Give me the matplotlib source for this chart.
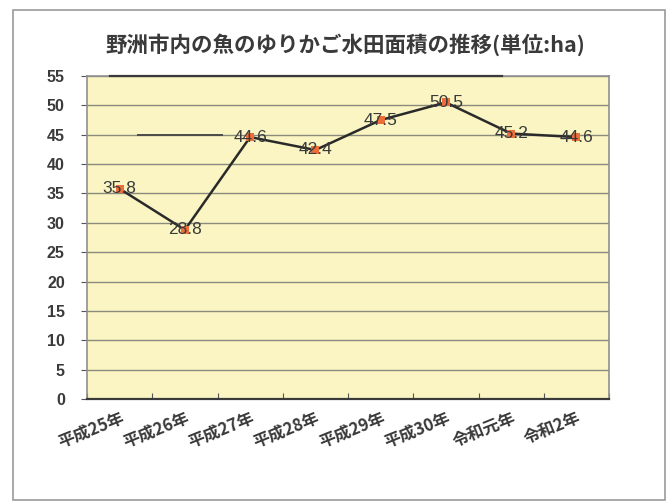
import matplotlib
matplotlib.use("Agg")
import matplotlib.pyplot as plt
from matplotlib.patches import Rectangle

plt.rcParams['font.family'] = ['Noto Sans CJK JP', 'DejaVu Sans']

title = "野洲市内の魚のゆりかご水田面積の推移(単位:ha)"
categories = ["平成25年", "平成26年", "平成27年", "平成28年", "平成29年", "平成30年", "令和元年", "令和2年"]
values = [35.8, 28.8, 44.6, 42.4, 47.5, 50.5, 45.2, 44.6]
yticks = list(range(0, 56, 5))

fig = plt.figure(figsize=(6.7, 5.03), dpi=100)
fig.patch.set_facecolor('white')

# outer chart border
fig.add_artist(Rectangle((13/670, 1-500/503), (665-13)/670, (500-10)/503,
                         transform=fig.transFigure, fill=False,
                         edgecolor='#9a9a9a', linewidth=1.2))

ax = fig.add_axes([87/670, 1-399/503, (609-87)/670, (399-76)/503])
ax.set_facecolor('#FAF5C2')

x = list(range(len(categories)))
ax.set_xlim(-0.5, len(categories)-0.5)
ax.set_ylim(0, 55)
ax.set_yticks(yticks)
ax.yaxis.grid(True, color='#8a8a7e', linewidth=1.0)
ax.set_axisbelow(True)

ax.plot(x, values, color='#2a2a2a', linewidth=1.8, zorder=3)
ax.scatter(x, values, marker='s', s=40, color='#EE6E3A', zorder=4, linewidths=0)
for xi, v in zip(x, values):
    ax.text(xi, v, f"{v}", ha='center', va='center', fontsize=12.5,
            family=['Liberation Sans', 'DejaVu Sans'], color='#3a3a3a', zorder=5)

# scan artifacts (darker strokes)
ax.axhline(55, xmin=0.044, xmax=0.795, color='#3a3a3a', linewidth=1.6, zorder=6, clip_on=False)
ax.axhline(45, xmin=0.098, xmax=0.259, color='#4a4a4a', linewidth=1.4, zorder=2)

# x axis: ticks between categories, labels centered
ax.set_xticks([i - 0.5 for i in range(len(categories)+1)])
ax.set_xticklabels([])
ax.set_xticks(x, minor=True)
ax.set_xticklabels(categories, minor=True, rotation=22, ha='right',
                   rotation_mode='anchor', fontsize=12, fontweight='bold', color='#3a3a3a')
ax.tick_params(axis='x', which='major', direction='in', length=4, color='#555555')
ax.tick_params(axis='x', which='minor', length=0, pad=7)
ax.tick_params(axis='y', direction='out', length=4, color='#555555', pad=12)
for lbl in ax.get_yticklabels():
    lbl.set_family(['Liberation Sans', 'DejaVu Sans'])
    lbl.set_fontsize(11.5)
    lbl.set_color('#3a3a3a')
    lbl.set_fontweight('bold')

for side in ['left', 'right', 'top']:
    ax.spines[side].set_color('#909090')
    ax.spines[side].set_linewidth(1.2)
ax.spines['bottom'].set_color('#3a3a3a')
ax.spines['bottom'].set_linewidth(1.6)

fig.text(345/670, 1-45/503, title, ha='center', va='center', fontsize=15.5,
         fontweight='bold', color='#3a3a3a')

fig.savefig('out.png', dpi=100, facecolor='white')
